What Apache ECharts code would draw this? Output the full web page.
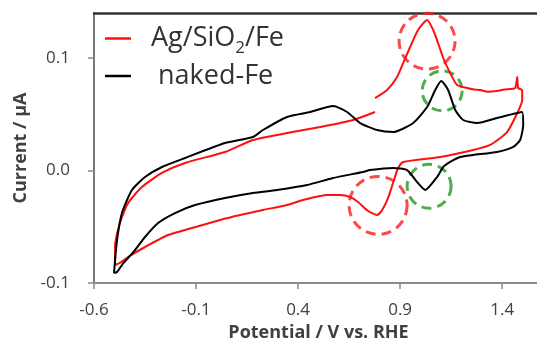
<!DOCTYPE html>
<html>
<head>
<meta charset="utf-8">
<script src="https://cdn.jsdelivr.net/npm/echarts@6/dist/echarts.min.js"></script>
<style>
  html, body { margin: 0; padding: 0; background: #fff; }
  #chart { width: 537px; height: 340px; }
</style>
</head>
<body>
<div id="chart"></div>
<script>
// tick labels
const potentialTicks = [-0.6, -0.1, 0.4, 0.9, 1.4];
const currentTicks = [-0.1, 0.0, 0.1];

// naked-Fe loop (V vs RHE, µA)
const nakedFePotential = [
  -0.502, -0.487, -0.463, -0.414, -0.350, -0.267, -0.154, 0.042, 0.179, 0.228,
  0.346, 0.459, 0.572, 0.640, 0.704, 0.787, 0.866, 0.964, 1.032, 1.072,
  1.101, 1.135, 1.170, 1.209, 1.277, 1.375, 1.498, 1.503, 1.488, 1.454,
  1.375, 1.258, 1.194, 1.145, 1.111, 1.081, 1.023, 0.983, 0.934, 0.866,
  0.753, 0.718, 0.572, 0.444, 0.297, 0.179, 0.042, -0.105, -0.203, -0.286,
  -0.350, -0.399, -0.433, -0.463, -0.487, -0.502
];
const nakedFeCurrent = [
  -0.0911, -0.0618, -0.0378, -0.0173, -0.0058, 0.0031, 0.0111, 0.0244, 0.0298, 0.0360,
  0.0476, 0.0520, 0.0573, 0.0520, 0.0422, 0.0360, 0.0342, 0.0422, 0.0564, 0.0716,
  0.0796, 0.0716, 0.0538, 0.0449, 0.0422, 0.0467, 0.0520, 0.0404, 0.0271, 0.0209,
  0.0164, 0.0138, 0.0120, 0.0076, 0.0031, -0.0058, -0.0173, -0.0102, 0.0004, 0.0022,
  0.0004, -0.0013, -0.0067, -0.0129, -0.0173, -0.0200, -0.0244, -0.0307, -0.0378, -0.0467,
  -0.0591, -0.0707, -0.0778, -0.0840, -0.0902, -0.0911
];

// Ag/SiO2/Fe loop, null marks the break in the trace
const agPotential = [
  -0.497, -0.497, -0.473, -0.433, -0.365, -0.267, -0.154, 0.042, 0.179, 0.346,
  0.508, 0.670, 0.777, null, 0.777, 0.836, 0.885, 0.915, 0.949, 0.988,
  1.032, 1.062, 1.086, 1.111, 1.145, 1.179, 1.228, 1.262, 1.292, 1.330,
  1.375, 1.410, 1.439, 1.464, 1.474, 1.478, 1.498, 1.498, 1.474, 1.424,
  1.341, 1.258, 1.096, 0.915, 0.890, 0.870, 0.841, 0.812, 0.787, 0.743,
  0.694, 0.655, 0.606, 0.542, 0.425, 0.346, 0.228, 0.116, 0.018, -0.120,
  -0.237, -0.350, -0.433, -0.473, -0.497
];
const agCurrent = [
  -0.0840, -0.0680, -0.0467, -0.0289, -0.0147, -0.0022, 0.0067, 0.0164, 0.0271, 0.0333,
  0.0387, 0.0449, 0.0520, null, 0.0644, 0.0716, 0.0831, 0.0956, 0.1098, 0.1249,
  0.1338, 0.1249, 0.1133, 0.1000, 0.0867, 0.0760, 0.0733, 0.0720, 0.0716, 0.0700,
  0.0707, 0.0720, 0.0724, 0.0733, 0.0831, 0.0733, 0.0716, 0.0627, 0.0511, 0.0342,
  0.0227, 0.0182, 0.0120, 0.0076, 0.0022, -0.0084, -0.0244, -0.0351, -0.0396, -0.0360,
  -0.0280, -0.0236, -0.0218, -0.0218, -0.0262, -0.0307, -0.0351, -0.0396, -0.0440, -0.0511,
  -0.0573, -0.0680, -0.0769, -0.0822, -0.0840
];

// dashed circle annotations (centres in data units)
const redCirclePotential = [1.032, 0.792];
const redCircleCurrent = [0.115, -0.031];
const greenCirclePotential = [1.106, 1.042];
const greenCircleCurrent = [0.0708, -0.014];

function pairs(xs, ys) {
  return xs.map((x, i) => (x === null ? ['-', '-'] : [x, ys[i]]));
}

const redSizes = [56, 58];
const greenSizes = [40, 44];

const chart = echarts.init(document.getElementById('chart'), null, { renderer: 'canvas' });

const labelFont = { fontFamily: 'Open Sans', fontSize: 17, color: '#404040' };
const nameFont = { fontFamily: 'Open Sans', fontSize: 18, fontWeight: 'bold', color: '#404040' };

chart.setOption({
  animation: false,
  backgroundColor: '#fff',
  grid: { left: 94, top: 13, right: -6, bottom: 57, outerBoundsMode: 'none' },
  legend: {
    data: ['Ag/SiO2/Fe', 'naked-Fe'],
    orient: 'vertical',
    left: 100,
    top: 20,
    icon: 'rect',
    itemWidth: 26,
    itemHeight: 2.5,
    itemGap: 6,
    formatter: function (name) {
      if (name === 'Ag/SiO2/Fe') return '{a|Ag/SiO}{s|2}{a|/Fe}';
      return '{a| naked-Fe}';
    },
    textStyle: {
      padding: [0, 0, 0, 15],
      rich: {
        a: { fontFamily: 'Open Sans', fontSize: 27, lineHeight: 36, color: '#333' },
        s: { fontFamily: 'Open Sans', fontSize: 17, lineHeight: 14, verticalAlign: 'bottom', color: '#333' }
      }
    }
  },
  xAxis: [{
    type: 'value',
    min: -0.6,
    max: 1.6,
    interval: 0.5,
    name: 'Potential / V vs. RHE',
    nameLocation: 'middle',
    nameGap: 36,
    nameTextStyle: nameFont,
    axisLine: { show: true, onZero: false, lineStyle: { color: '#8a8a8a', width: 2 } },
    axisTick: { show: true, inside: false, length: 6, customValues: potentialTicks, lineStyle: { color: '#8a8a8a', width: 1.5 } },
    axisLabel: Object.assign({ margin: 19, customValues: potentialTicks, formatter: v => v.toFixed(1) }, labelFont),
    splitLine: { show: false }
  }, {
    type: 'value',
    position: 'top',
    min: -0.6,
    max: 1.6,
    axisLine: { show: true, onZero: false, lineStyle: { color: '#333', width: 2.5 } },
    axisTick: { show: false },
    axisLabel: { show: false },
    splitLine: { show: false }
  }],
  yAxis: {
    type: 'value',
    min: -0.1,
    max: 0.14,
    interval: 0.1,
    name: 'Current / µA',
    nameLocation: 'middle',
    nameGap: 64,
    nameRotate: 90,
    nameTextStyle: nameFont,
    axisLine: { show: true, onZero: false, lineStyle: { color: '#7a7a7a', width: 2 } },
    axisTick: { show: true, inside: false, length: 6, customValues: currentTicks, lineStyle: { color: '#8a8a8a', width: 1.5 } },
    axisLabel: Object.assign({ margin: 24, customValues: currentTicks, formatter: v => v.toFixed(1) }, labelFont),
    splitLine: { show: false }
  },
  series: [
    {
      name: 'Ag/SiO2/Fe',
      type: 'line',
      data: pairs(agPotential, agCurrent),
      showSymbol: false,
      symbol: 'none',
      smooth: 0.2,
      connectNulls: false,
      color: '#ff1010',
      lineStyle: { color: '#ff1010', width: 2 }
    },
    {
      name: 'naked-Fe',
      type: 'line',
      data: pairs(nakedFePotential, nakedFeCurrent),
      showSymbol: false,
      symbol: 'none',
      smooth: 0.2,
      color: '#000',
      lineStyle: { color: '#000', width: 2 }
    },
    {
      name: 'red marks',
      type: 'scatter',
      data: pairs(redCirclePotential, redCircleCurrent),
      symbol: 'circle',
      symbolSize: (v, p) => redSizes[p.dataIndex],
      itemStyle: { color: 'transparent', borderColor: '#ff1a1a', borderWidth: 3, borderType: [10, 6] },
      silent: true,
      z: 1
    },
    {
      name: 'green marks',
      type: 'scatter',
      data: pairs(greenCirclePotential, greenCircleCurrent),
      symbol: 'circle',
      symbolSize: (v, p) => greenSizes[p.dataIndex],
      itemStyle: { color: 'transparent', borderColor: '#1f9a1f', borderWidth: 3, borderType: [10, 6] },
      silent: true,
      z: 1
    }
  ]
});
</script>
</body>
</html>
